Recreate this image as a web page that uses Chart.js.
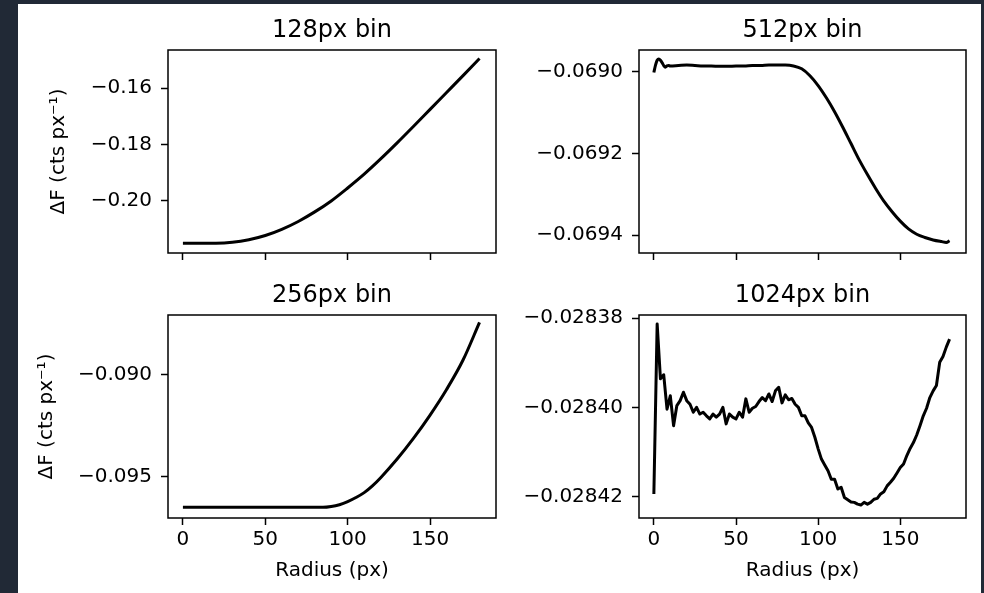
<!DOCTYPE html>
<html>
<head>
<meta charset="utf-8">
<script src="https://cdn.jsdelivr.net/npm/chart.js@4.4.1/dist/chart.umd.min.js"></script>
<style>
  html, body { margin: 0; padding: 0; background: #212936; }
  body { width: 984px; height: 593px; position: relative; overflow: hidden; }
  #fig { position: absolute; left: 18px; top: 4px; width: 963px; height: 589px; background: #fff; }
  canvas { position: absolute; left: 0; top: 0; }
</style>
</head>
<body>
<div id="fig"></div>
<canvas id="c128" width="984" height="593"></canvas>
<canvas id="c512" width="984" height="593"></canvas>
<canvas id="c256" width="984" height="593"></canvas>
<canvas id="c1024" width="984" height="593"></canvas>
<script>
// x axis (radius, px) shared by all panels
const xTicks = [0, 50, 100, 150];

// 128px bin
const r128 = [0, 10, 20, 30, 40, 50, 60, 70, 80, 90, 100, 110, 120, 130, 140, 150, 160, 170, 180];
const f128 = [-0.2150, -0.2150, -0.2150, -0.2147, -0.2138, -0.2123, -0.2101, -0.2073, -0.2039, -0.2000,
              -0.1954, -0.1905, -0.1851, -0.1794, -0.1735, -0.1675, -0.1615, -0.1555, -0.1494];
const yTicks128 = [-0.20, -0.18, -0.16];

// 512px bin
const r512 = [0, 1, 2, 3, 4, 5, 6, 7, 8, 9, 10, 15, 20, 25, 30, 35, 40, 45, 50, 55, 60, 65, 70, 75, 80, 85,
              90, 95, 100, 105, 110, 115, 120, 125, 130, 135, 140, 145, 150, 155, 160, 165, 170, 175, 178, 180];
const f512 = [-0.069002, -0.068984, -0.068972, -0.068969, -0.068972, -0.068978, -0.068985, -0.068989, -0.068986,
              -0.068985, -0.068986, -0.068985, -0.068984, -0.068985, -0.068986, -0.068986, -0.068987, -0.068987,
              -0.068986, -0.068986, -0.068985, -0.068985, -0.068984, -0.068984, -0.068984, -0.068986,
              -0.068993, -0.069010, -0.069034, -0.069064, -0.069098, -0.069136, -0.069176, -0.069216, -0.069252,
              -0.069286, -0.069317, -0.069343, -0.069366, -0.069385, -0.069398, -0.069406, -0.069412, -0.069416,
              -0.069418, -0.069414];
const yTicks512 = [-0.0694, -0.0692, -0.0690];

// 256px bin
const r256 = [0, 10, 20, 30, 40, 50, 60, 70, 80, 85, 90, 95, 100, 105, 110, 115, 120, 130, 140, 150, 160, 170, 180];
const f256 = [-0.09650, -0.09650, -0.09650, -0.09650, -0.09650, -0.09650, -0.09650, -0.09650, -0.09650, -0.09650,
              -0.09646, -0.09637, -0.09622, -0.09602, -0.09578, -0.09545, -0.09505, -0.09414, -0.09312, -0.09199,
              -0.09074, -0.08930, -0.08746];
const yTicks256 = [-0.095, -0.090];

// 1024px bin (radius 0..180 in steps of 2)
const r1024 = [0, 2, 4, 6, 8, 10, 12, 14, 16, 18, 20, 22, 24, 26, 28, 30, 32, 34, 36, 38, 40, 42, 44, 46, 48,
               50, 52, 54, 56, 58, 60, 62, 64, 66, 68, 70, 72, 74, 76, 78, 80, 82, 84, 86, 88, 90, 92, 94, 96, 98,
               100, 102, 104, 106, 108, 110, 112, 114, 116, 118, 120, 122, 124, 126, 128, 130, 132, 134, 136, 138,
               140, 142, 144, 146, 148, 150, 152, 154, 156, 158, 160, 162, 164, 166, 168, 170, 172, 174, 176, 178, 180];
const f1024 = [-0.0284194, -0.0283813, -0.0283936, -0.0283927, -0.0284004, -0.0283974, -0.0284041, -0.0283996,
               -0.0283985, -0.0283966, -0.0283985, -0.0283993, -0.0284011, -0.0284000, -0.0284015, -0.0284011,
               -0.0284019, -0.0284026, -0.0284015, -0.0284022, -0.0284015, -0.0284000, -0.0284037, -0.0284015,
               -0.0284022, -0.0284026, -0.0284011, -0.0284022, -0.0283981, -0.0284011, -0.0284002, -0.0283998,
               -0.0283987, -0.0283978, -0.0283985, -0.0283970, -0.0283987, -0.0283963, -0.0283955, -0.0283990,
               -0.0283972, -0.0283983, -0.0283980, -0.0283993, -0.0284000, -0.0284019, -0.0284019, -0.0284035,
               -0.0284045, -0.0284067, -0.0284093, -0.0284116, -0.0284129, -0.0284142, -0.0284161, -0.0284161,
               -0.0284183, -0.0284179, -0.0284202, -0.0284207, -0.0284212, -0.0284213, -0.0284217, -0.0284219,
               -0.0284213, -0.0284217, -0.0284213, -0.0284206, -0.0284204, -0.0284194, -0.0284189, -0.0284176,
               -0.0284168, -0.0284159, -0.0284147, -0.0284135, -0.0284127, -0.0284108, -0.0284092, -0.0284079,
               -0.0284062, -0.0284041, -0.0284019, -0.0284002, -0.0283978, -0.0283963, -0.0283951, -0.0283899,
               -0.0283886, -0.0283865, -0.0283847];
const yTicks1024 = [-0.02842, -0.02840, -0.02838];

Chart.defaults.font.family = 'DejaVu Sans';
Chart.defaults.color = '#000';

// matplotlib-like box around the axes
const frame = {
  id: 'frame',
  afterDraw(chart) {
    const a = chart.chartArea, ctx = chart.ctx;
    ctx.save();
    ctx.strokeStyle = '#000';
    ctx.lineWidth = 1.5;
    ctx.strokeRect(a.left, a.top, a.right - a.left, a.bottom - a.top);
    ctx.restore();
  }
};

function fmt(v, d) {
  return v.toFixed(d).replace('-', '\u2212');
}

function makePanel(id, p) {
  const pad = {
    left: p.yTitleX ? p.yTitleX - 12 : p.left - 139,
    right: 984 - p.right,
    top: p.top - 50,
    bottom: p.bottomRow ? 0 : 593 - p.bottom - 20
  };
  return new Chart(document.getElementById(id), {
    type: 'line',
    data: {
      datasets: [{
        data: p.xs.map((x, i) => ({ x: x, y: p.ys[i] })),
        borderColor: '#000',
        borderWidth: 3,
        borderJoinStyle: 'round',
        pointRadius: 0,
        fill: false,
        cubicInterpolationMode: p.smooth ? 'monotone' : 'default',
        tension: 0
      }]
    },
    options: {
      responsive: false,
      animation: false,
      devicePixelRatio: 1,
      layout: { padding: pad },
      plugins: {
        legend: { display: false },
        tooltip: { enabled: false },
        title: {
          display: true,
          text: p.title,
          fullSize: false,
          color: '#000',
          font: { size: 24, weight: 'normal', lineHeight: '29px' },
          padding: { top: 16, bottom: 5 }
        }
      },
      scales: {
        x: {
          type: 'linear',
          min: -9.05,
          max: 190,
          afterBuildTicks: s => { s.ticks = xTicks.map(v => ({ value: v })); },
          afterFit: s => { s.height = p.bottomRow ? 593 - p.bottom : 20; },
          ticks: {
            display: p.bottomRow,
            font: { size: 20 },
            padding: 3,
            maxRotation: 0,
            autoSkip: false,
            callback: v => String(v)
          },
          grid: { drawOnChartArea: false, drawTicks: true, tickLength: 7, tickWidth: 1.5, tickColor: '#000' },
          border: { display: false },
          title: {
            display: p.bottomRow,
            text: 'Radius (px)',
            font: { size: 20, lineHeight: 1.2 },
            padding: { top: 0, bottom: 10 }
          }
        },
        y: {
          type: 'linear',
          min: p.yMin,
          max: p.yMax,
          afterBuildTicks: s => { s.ticks = p.yTicks.map(v => ({ value: v })); },
          afterFit: s => { s.width = p.left - pad.left; },
          ticks: {
            font: { size: 20 },
            padding: 9,
            autoSkip: false,
            callback: v => fmt(v, p.decimals)
          },
          grid: { drawOnChartArea: false, drawTicks: true, tickLength: 7, tickWidth: 1.5, tickColor: '#000' },
          border: { display: false },
          title: {
            display: !!p.yTitleX,
            text: '\u0394F (cts px\u207B\u00B9)',
            font: { size: 20, lineHeight: 1.2 },
            padding: { top: 0, bottom: 0 }
          }
        }
      }
    },
    plugins: [frame]
  });
}

makePanel('c128', {
  title: '128px bin', xs: r128, ys: f128, smooth: true,
  yMin: -0.2185, yMax: -0.1464, yTicks: yTicks128, decimals: 2,
  left: 168, right: 496, top: 50, bottom: 253, yTitleX: 59, bottomRow: false
});

makePanel('c512', {
  title: '512px bin', xs: r512, ys: f512, smooth: true,
  yMin: -0.069444, yMax: -0.068947, yTicks: yTicks512, decimals: 4,
  left: 639, right: 966, top: 50, bottom: 253, yTitleX: null, bottomRow: false
});

makePanel('c256', {
  title: '256px bin', xs: r256, ys: f256, smooth: true,
  yMin: -0.09702, yMax: -0.0871, yTicks: yTicks256, decimals: 3,
  left: 168, right: 496, top: 315, bottom: 518, yTitleX: 47, bottomRow: true
});

makePanel('c1024', {
  title: '1024px bin', xs: r1024, ys: f1024, smooth: false,
  yMin: -0.0284248, yMax: -0.0283793, yTicks: yTicks1024, decimals: 5,
  left: 639, right: 966, top: 315, bottom: 518, yTitleX: null, bottomRow: true
});
</script>
</body>
</html>
